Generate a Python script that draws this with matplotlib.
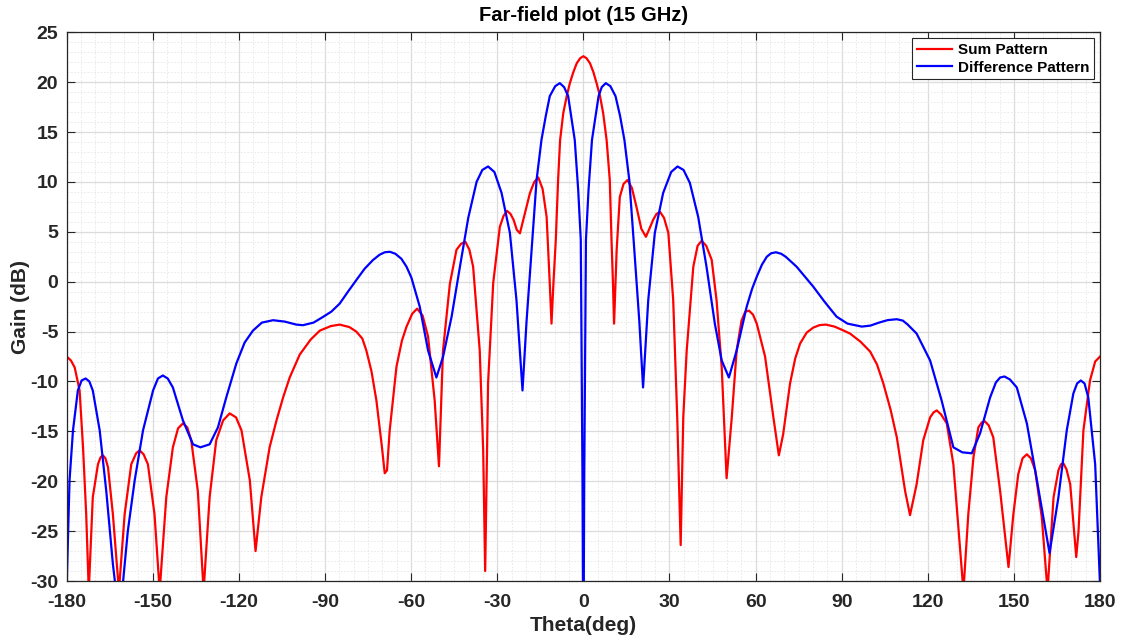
import numpy as np
import matplotlib
matplotlib.use('Agg')
from matplotlib import pyplot as plt
from matplotlib.ticker import MultipleLocator

# Sum pattern (red)
theta_sum = [-180, -178.5, -177.2, -175.5, -174.3, -173.2, -172.3, -170.9, -169.1, -168.2,
             -167.4, -166.5, -165.6, -163.9, -161.8, -159.8, -157.5, -155.8, -154.6, -153.2,
             -151.7, -149.4, -147.6, -145.3, -143.0, -141.2, -139.5, -138.0, -136.6, -134.3,
             -132.3, -130.2, -127.9, -125.5, -123.2, -121.0, -119.1, -116.2, -114.2, -112.2,
             -109.3, -106.9, -104.6, -102.3, -98.8, -95.0, -91.8, -88.0, -84.9, -81.5,
             -79.1, -77.0, -75.6, -73.8, -72.1, -70.2, -69.2, -68.4, -67.5, -65.1,
             -63.2, -61.6, -59.6, -57.9, -56.0, -54.1, -51.8, -50.3, -48.9, -46.5,
             -44.2, -42.6, -41.1, -39.7, -38.4, -36.1, -34.9, -34.2, -33.2, -31.4,
             -29.1, -27.8, -26.6, -25.4, -24.3, -23.2, -22.1, -20.6, -18.6, -17.1,
             -15.7, -14.2, -12.8, -11.7, -11.1, -10.4, -9.6, -8.8, -8.1, -7.0,
             -5.8, -4.7, -3.5, -2.3, -1.1, 0, 1.1, 2.3, 3.5, 4.6,
             5.8, 6.9, 8.1, 9.2, 9.8, 10.3, 10.7, 11.6, 12.7, 14.0,
             15.4, 16.9, 18.5, 20.2, 21.8, 23.0, 24.3, 25.5, 26.7, 28.1,
             29.6, 31.3, 32.7, 33.9, 34.8, 36.0, 38.3, 39.8, 41.2, 42.8,
             44.7, 46.4, 48.2, 49.9, 51.7, 53.4, 55.1, 56.4, 57.7, 59.1,
             60.4, 63.3, 66.2, 68.1, 69.6, 72.0, 73.8, 75.5, 77.8, 80.1,
             82.3, 84.5, 87.5, 90.3, 92.9, 96.5, 99.9, 102.3, 104.5, 107.0,
             109.2, 112.1, 113.8, 116.1, 118.4, 120.8, 122.0, 123.1, 124.6, 126.6,
             128.9, 131.2, 132.4, 134.1, 135.9, 137.6, 138.8, 139.9, 141.2, 142.8,
             145.2, 148.1, 149.8, 151.5, 153.0, 154.5, 155.9, 157.4, 159.7, 161.7,
             163.8, 165.5, 166.4, 167.2, 168.3, 169.6, 171.7, 172.5, 174.2, 176.5,
             178.3, 180]
gain_sum = [-7.5, -7.9, -8.6, -10.9, -16.6, -23.3, -31, -21.6, -18.3, -17.6,
            -17.4, -17.7, -18.6, -23.3, -31, -23.3, -18.3, -17.2, -16.9, -17.3,
            -18.3, -23.3, -31, -21.6, -16.6, -14.7, -14.2, -14.6, -15.9, -21,
            -31, -21.6, -15.9, -13.9, -13.2, -13.6, -14.9, -19.9, -27.0, -21.6,
            -16.6, -13.9, -11.6, -9.6, -7.3, -5.8, -4.9, -4.45, -4.3, -4.55,
            -5.0, -5.7, -6.9, -9.0, -11.9, -16.5, -19.2, -18.9, -15.0, -8.5,
            -5.9, -4.5, -3.2, -2.7, -3.4, -5.5, -11.9, -18.5, -6.9, -0.2,
            3.2, 3.8, 4.0, 3.2, 1.5, -6.9, -16.9, -29.0, -10.2, -0.1,
            5.5, 6.6, 7.1, 6.8, 6.2, 5.2, 4.85, 6.6, 8.9, 10.0,
            10.45, 9.3, 6.5, -0.2, -4.2, 0.0, 4.2, 10.2, 14.2, 16.9,
            18.6, 19.9, 21.0, 21.9, 22.4, 22.6, 22.4, 21.9, 21.0, 19.9,
            18.6, 16.9, 14.2, 10.2, 4.2, 0.0, -4.2, 3.2, 8.5, 9.8,
            10.2, 9.4, 7.5, 5.3, 4.5, 5.3, 6.2, 6.8, 7.0, 6.4,
            4.9, -1.85, -13.6, -26.4, -13.6, -6.9, 1.5, 3.6, 4.1, 3.6,
            2.2, -1.85, -8.6, -19.7, -13.6, -6.9, -3.9, -3.0, -2.9, -3.3,
            -4.2, -7.5, -13.6, -17.4, -15.3, -10.2, -7.7, -6.2, -5.1, -4.6,
            -4.35, -4.3, -4.5, -4.85, -5.2, -6.0, -7.0, -8.3, -10.2, -12.8,
            -15.6, -21, -23.4, -20.3, -15.9, -13.6, -13.1, -12.9, -13.3, -14.2,
            -18.3, -26.7, -31, -23.3, -17.6, -14.6, -14.1, -14.0, -14.4, -15.6,
            -21, -28.6, -23.3, -19.3, -17.7, -17.3, -17.7, -18.9, -23.6, -31,
            -21.6, -18.9, -18.3, -18.2, -18.8, -20.3, -27.6, -25, -14.9, -9.9,
            -8.0, -7.5]

# Difference pattern (blue)
theta_diff = [-180, -179.0, -177.8, -176.1, -174.8, -173.4, -172.1, -170.9, -168.5, -166.2,
              -163.9, -162.0, -160.5, -158.7, -156.3, -153.4, -149.9, -148.2, -146.5, -144.8,
              -143.0, -139.5, -136.0, -133.4, -130.2, -127.3, -124.4, -120.9, -118.0, -115.1,
              -112.0, -108.1, -104.0, -100.0, -97.7, -94.0, -90.7, -87.8, -84.9, -82.0,
              -79.1, -76.2, -73.3, -71.0, -69.2, -67.4, -65.5, -63.4, -61.6, -59.9,
              -57.0, -54.1, -51.2, -48.9, -45.9, -43.0, -40.1, -37.2, -35.2, -33.2,
              -31.0, -28.5, -25.6, -23.3, -21.2, -19.8, -17.8, -16.3, -14.6, -13.1,
              -11.7, -9.8, -8.2, -6.7, -5.3, -3.0, -1.8, -0.9, -0.3, 0,
              0.3, 0.9, 1.8, 3.0, 5.3, 6.4, 7.8, 9.4, 11.2, 12.8,
              14.3, 16.0, 17.5, 19.5, 20.8, 22.6, 24.9, 27.8, 30.6, 32.8,
              34.9, 37.1, 40.0, 42.9, 45.8, 48.2, 50.7, 53.4, 56.9, 58.8,
              60.4, 62.2, 63.9, 65.4, 67.1, 68.9, 70.5, 74.3, 77.2, 80.1,
              84.0, 88.2, 92.0, 97.0, 100.0, 103.0, 106.0, 109.2, 111.3, 113.0,
              116.1, 120.8, 124.8, 128.9, 132.0, 135.3, 138.2, 141.7, 143.7, 145.2,
              146.7, 148.6, 151.0, 154.5, 158.0, 162.4, 165.5, 168.4, 170.7, 172.0,
              173.3, 174.6, 175.9, 178.3, 180]
gain_diff = [-30.5, -19.9, -14.9, -10.9, -9.9, -9.7, -10.0, -10.9, -14.9, -21,
             -28.3, -33, -30.5, -25, -19.9, -14.9, -10.9, -9.7, -9.4, -9.7,
             -10.6, -13.9, -16.3, -16.6, -16.3, -14.6, -11.6, -8.2, -6.1, -4.9,
             -4.1, -3.86, -4.0, -4.3, -4.36, -4.1, -3.53, -3.0, -2.2, -1.0,
             0.16, 1.3, 2.17, 2.7, 2.95, 3.0, 2.8, 2.3, 1.5, 0.4,
             -2.5, -6.9, -9.6, -7.55, -3.5, 1.5, 6.4, 10.0, 11.2, 11.55,
             11.0, 8.9, 4.9, -1.85, -10.9, -4.0, 4.2, 10.2, 14.2, 16.6,
             18.6, 19.6, 19.9, 19.5, 18.6, 14.2, 9.2, 4.2, -20, -40,
             -20, 4.2, 9.2, 14.2, 18.6, 19.5, 19.9, 19.6, 18.6, 16.6,
             14.2, 10.2, 4.2, -4.0, -10.6, -1.85, 4.9, 8.9, 11.0, 11.55,
             11.2, 9.9, 6.5, 1.5, -4.2, -7.9, -9.6, -6.9, -2.5, -0.7,
             0.5, 1.7, 2.5, 2.85, 2.95, 2.8, 2.5, 1.5, 0.5, -0.5,
             -2.0, -3.5, -4.2, -4.5, -4.4, -4.1, -3.85, -3.76, -3.9, -4.3,
             -5.2, -7.9, -11.9, -16.6, -17.1, -17.2, -15.2, -11.6, -10.1, -9.6,
             -9.5, -9.8, -10.6, -14.2, -19.9, -27.2, -21.6, -14.9, -11.2, -10.2,
             -9.9, -10.2, -11.6, -18.3, -30.5]

font = 'Liberation Sans'
plt.rcParams['font.family'] = font
plt.rcParams['font.weight'] = 'bold'
plt.rcParams['axes.unicode_minus'] = False

fig = plt.figure(figsize=(11.3, 6.43), dpi=100)
ax = fig.add_axes([0.059, 0.0964, 0.9145, 0.8534])

ax.plot(theta_sum, gain_sum, color='red', lw=1.6, label='Sum Pattern')
ax.plot(theta_diff, gain_diff, color='blue', lw=1.6, label='Difference Pattern')

ax.set_xlim(-180, 180)
ax.set_ylim(-30, 25)
ax.xaxis.set_major_locator(MultipleLocator(30))
ax.xaxis.set_minor_locator(MultipleLocator(5))
ax.yaxis.set_major_locator(MultipleLocator(5))
ax.yaxis.set_minor_locator(MultipleLocator(1))

ax.grid(which='major', color='#dcdcdc', lw=0.9)
ax.grid(which='minor', color='#e6e6e6', lw=0.6, ls=(0, (2, 2)))
ax.set_axisbelow(True)

ax.tick_params(which='both', direction='in', top=True, right=True, colors='#262626',
               labelsize=14, labelcolor='#262626', pad=6)
ax.tick_params(axis='x', pad=9)
ax.tick_params(which='major', length=6)
ax.tick_params(which='minor', length=0)
for s in ax.spines.values():
    s.set_color('#262626')
    s.set_linewidth(0.9)

ax.set_title('Far-field plot (15 GHz)', fontsize=14.5, fontweight='bold', pad=8)
ax.set_xlabel('Theta(deg)', fontsize=15, fontweight='bold', labelpad=4, color='#262626')
ax.set_ylabel('Gain (dB)', fontsize=15, fontweight='bold', labelpad=0, color='#262626')

leg = ax.legend(loc='upper right', fontsize=11, frameon=True, fancybox=False,
                handlelength=2.3, handletextpad=0.4, borderpad=0.3, labelspacing=0.25,
                borderaxespad=0.4)
leg.get_frame().set_edgecolor('#262626')
leg.get_frame().set_linewidth(0.8)
leg.get_frame().set_alpha(1)

fig.savefig('out.png', dpi=100)
